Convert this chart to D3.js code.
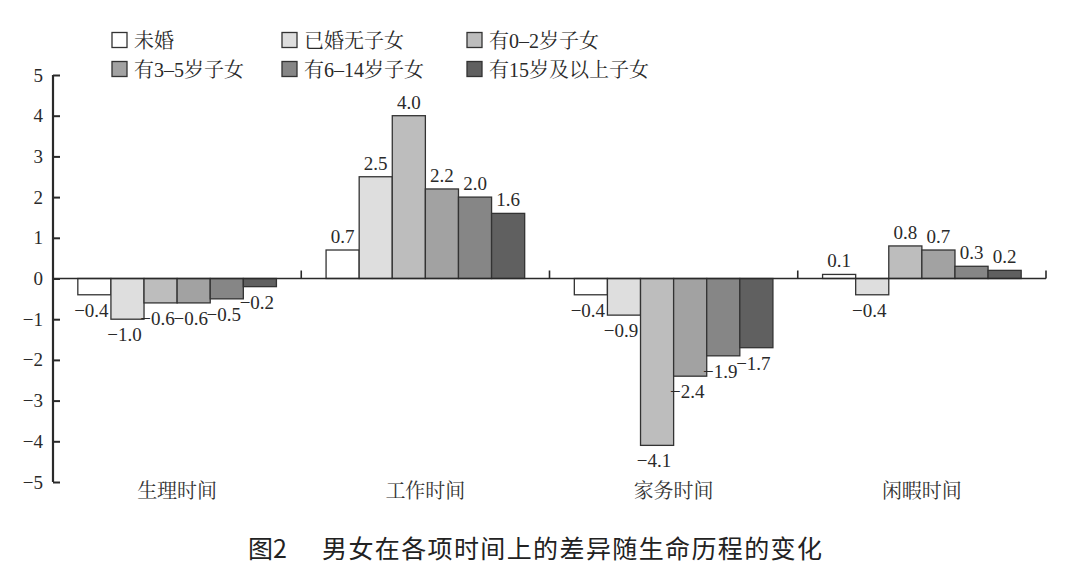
<!DOCTYPE html>
<html><head><meta charset="utf-8">
<script src="https://cdn.jsdelivr.net/npm/d3@7/dist/d3.min.js"></script>
<style>body{margin:0;background:#fff}svg{display:block}</style>
</head><body><svg id="c" width="1080" height="583"></svg>
<script>
const categories = ["生理时间", "工作时间", "家务时间", "闲暇时间"];
const seriesNames = ["未婚", "已婚无子女", "有0–2岁子女", "有3–5岁子女", "有6–14岁子女", "有15岁及以上子女"];
const seriesColors = ["#ffffff", "#dedede", "#bdbdbd", "#a2a2a2", "#868686", "#606060"];
const unmarried      = [-0.4, 0.7, -0.4, 0.1];
const marriedNoKids  = [-1.0, 2.5, -0.9, -0.4];
const kids0to2       = [-0.6, 4.0, -4.1, 0.8];
const kids3to5       = [-0.6, 2.2, -2.4, 0.7];
const kids6to14      = [-0.5, 2.0, -1.9, 0.3];
const kids15plus     = [-0.2, 1.6, -1.7, 0.2];
const yTicks = [-5, -4, -3, -2, -1, 0, 1, 2, 3, 4, 5];
const titleLabel = "图2";
const titleText = "男女在各项时间上的差异随生命历程的变化";

const seriesValues = [unmarried, marriedNoKids, kids0to2, kids3to5, kids6to14, kids15plus];
const svg = d3.select("#c");
const serif = "'Liberation Serif','Times New Roman','Noto Serif CJK SC','Noto Sans CJK SC',serif";
const ink = "#2a2a2a";

const x0 = d3.scaleBand().domain(categories).range([53, 1046]).paddingInner(0).paddingOuter(0);
const x1 = d3.scaleBand().domain(d3.range(seriesNames.length)).range([0, x0.bandwidth()]).paddingInner(0).paddingOuter(0.75);
const y = d3.scaleLinear().domain([-5, 5]).range([482, 75]);

// bars
const data = [];
categories.forEach((c, ci) => seriesValues.forEach((vals, si) => data.push({c, si, v: vals[ci]})));
svg.append("g").selectAll("rect").data(data).join("rect")
  .attr("x", d => x0(d.c) + x1(d.si))
  .attr("y", d => y(Math.max(0, d.v)))
  .attr("width", x1.bandwidth())
  .attr("height", d => Math.abs(y(d.v) - y(0)))
  .attr("fill", d => seriesColors[d.si])
  .attr("stroke", "#333").attr("stroke-width", 1.3);

// value labels
const fmt = v => (v < 0 ? "−" : "") + Math.abs(v).toFixed(1);
svg.append("g").selectAll("text").data(data).join("text")
  .attr("x", d => x0(d.c) + x1(d.si) + x1.bandwidth() / 2 - (d.v < 0 ? 3 : 0))
  .attr("y", d => d.v >= 0 ? y(d.v) - 7 : y(d.v) + 22)
  .attr("text-anchor", "middle")
  .attr("font-family", serif).attr("font-size", 19).attr("fill", ink)
  .text(d => fmt(d.v));

// y axis
const yAxis = d3.axisLeft(y).tickValues(yTicks).tickSize(-7).tickPadding(10)
  .tickFormat(v => (v < 0 ? "−" : "") + Math.abs(v));
const gy = svg.append("g").attr("transform", "translate(53,0)").call(yAxis);
gy.select(".domain").attr("stroke", ink).attr("stroke-width", 2.2).attr("d", "M0,75V482");
gy.selectAll(".tick line").attr("stroke", ink).attr("stroke-width", 2);
gy.selectAll(".tick text").attr("font-family", serif).attr("font-size", 19).attr("fill", ink);

// x axis at zero
const gx = svg.append("g");
gx.append("line").attr("x1", 53).attr("x2", 1046).attr("y1", y(0)).attr("y2", y(0))
  .attr("stroke", ink).attr("stroke-width", 1.6);
gx.selectAll("line.t").data(categories.map(c => x0(c) + x0.bandwidth())).join("line")
  .attr("class", "t").attr("x1", d => d).attr("x2", d => d)
  .attr("y1", y(0)).attr("y2", y(0) - 8).attr("stroke", ink).attr("stroke-width", 1.6);
gx.selectAll("text").data(categories).join("text")
  .attr("x", c => x0(c) + x0.bandwidth() / 2).attr("y", 498)
  .attr("text-anchor", "middle")
  .attr("font-family", serif).attr("font-size", 20).attr("fill", "#333")
  .text(c => c);

// legend
const legendX = [112, 282, 467];
const legendY = [40, 69];
const lg = svg.append("g").selectAll("g").data(seriesNames).join("g")
  .attr("transform", (d, i) => `translate(${legendX[i % 3]},${legendY[Math.floor(i / 3)]})`);
lg.append("rect").attr("x", 0).attr("y", -7.5).attr("width", 15).attr("height", 15)
  .attr("fill", (d, i) => seriesColors[i]).attr("stroke", "#333").attr("stroke-width", 1.3);
lg.append("text").attr("x", 22).attr("y", 7.5)
  .attr("font-family", serif).attr("font-size", 20).attr("fill", ink)
  .text(d => d);

// title
const tg = svg.append("g").attr("font-family", "'Noto Sans CJK SC',sans-serif").attr("font-size", 25).attr("fill", "#222");
tg.append("text").attr("x", 248).attr("y", 558).text(titleLabel);
tg.append("text").attr("x", 322).attr("y", 558).attr("textLength", 500).text(titleText);
</script></body></html>
